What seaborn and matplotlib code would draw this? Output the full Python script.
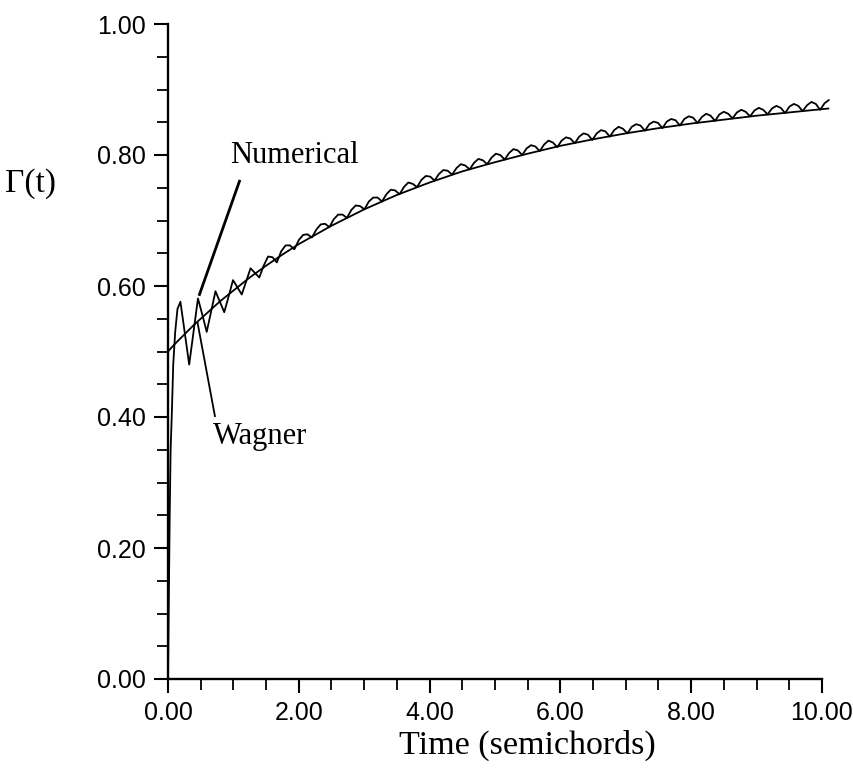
import numpy as np
import pandas as pd
import seaborn as sns
import matplotlib
matplotlib.use("Agg")
import matplotlib.pyplot as plt
from matplotlib.ticker import MultipleLocator, FormatStrFormatter

# ---- data ----
wagner_t = [0.0, 0.1, 0.2, 0.3, 0.4, 0.5, 0.6, 0.7, 0.8, 0.9, 1.0, 1.1, 1.25, 1.5,
            1.75, 2.0, 2.5, 3.0, 3.5, 4.0, 4.5, 5.0, 5.5, 6.0, 6.5, 7.0, 7.5, 8.0,
            8.5, 9.0, 9.5, 10.0, 10.1]
wagner_g = [0.500, 0.511, 0.521, 0.531, 0.541, 0.550, 0.559, 0.568, 0.577, 0.585,
            0.593, 0.601, 0.613, 0.631, 0.648, 0.664, 0.692, 0.717, 0.739, 0.758,
            0.775, 0.789, 0.802, 0.814, 0.824, 0.833, 0.841, 0.848, 0.854, 0.860,
            0.865, 0.870, 0.871]

numerical_t = [0.0, 0.012, 0.026, 0.04, 0.06, 0.08, 0.11, 0.145,
    0.190, 0.257, 0.324, 0.391, 0.458, 0.525, 0.592, 0.659,
    0.726, 0.793, 0.860, 0.927, 0.994, 1.061, 1.128, 1.195,
    1.262, 1.329, 1.396, 1.463, 1.530, 1.597, 1.664, 1.731,
    1.798, 1.865, 1.932, 1.999, 2.066, 2.133, 2.200, 2.267,
    2.334, 2.401, 2.468, 2.535, 2.602, 2.669, 2.736, 2.803,
    2.870, 2.937, 3.004, 3.071, 3.138, 3.205, 3.272, 3.339,
    3.406, 3.473, 3.540, 3.607, 3.674, 3.741, 3.808, 3.875,
    3.942, 4.009, 4.076, 4.143, 4.210, 4.277, 4.344, 4.411,
    4.478, 4.545, 4.612, 4.679, 4.746, 4.813, 4.880, 4.947,
    5.014, 5.081, 5.148, 5.215, 5.282, 5.349, 5.416, 5.483,
    5.550, 5.617, 5.684, 5.751, 5.818, 5.885, 5.952, 6.019,
    6.086, 6.153, 6.220, 6.287, 6.354, 6.421, 6.488, 6.555,
    6.622, 6.689, 6.756, 6.823, 6.890, 6.957, 7.024, 7.091,
    7.158, 7.225, 7.292, 7.359, 7.426, 7.493, 7.560, 7.627,
    7.694, 7.761, 7.828, 7.895, 7.962, 8.029, 8.096, 8.163,
    8.230, 8.297, 8.364, 8.431, 8.498, 8.565, 8.632, 8.699,
    8.766, 8.833, 8.900, 8.967, 9.034, 9.101, 9.168, 9.235,
    9.302, 9.369, 9.436, 9.503, 9.570, 9.637, 9.704, 9.771,
    9.838, 9.905, 9.972, 10.039, 10.106]
numerical_g = [0.0, 0.12, 0.25, 0.35, 0.41, 0.48, 0.53, 0.565,
    0.576, 0.528, 0.480, 0.531, 0.581, 0.556, 0.530, 0.561,
    0.592, 0.576, 0.560, 0.584, 0.609, 0.598, 0.587, 0.607,
    0.627, 0.620, 0.613, 0.631, 0.645, 0.644, 0.636, 0.653,
    0.662, 0.662, 0.656, 0.670, 0.678, 0.679, 0.674, 0.686,
    0.694, 0.695, 0.690, 0.702, 0.709, 0.709, 0.704, 0.716,
    0.723, 0.722, 0.717, 0.729, 0.735, 0.735, 0.729, 0.740,
    0.747, 0.746, 0.740, 0.751, 0.758, 0.756, 0.751, 0.762,
    0.768, 0.767, 0.761, 0.771, 0.777, 0.776, 0.770, 0.780,
    0.786, 0.784, 0.778, 0.788, 0.794, 0.792, 0.786, 0.796,
    0.802, 0.800, 0.793, 0.803, 0.809, 0.807, 0.800, 0.810,
    0.815, 0.813, 0.806, 0.816, 0.822, 0.819, 0.812, 0.822,
    0.827, 0.825, 0.818, 0.828, 0.833, 0.831, 0.823, 0.833,
    0.838, 0.836, 0.828, 0.838, 0.843, 0.840, 0.833, 0.843,
    0.847, 0.845, 0.837, 0.847, 0.851, 0.849, 0.841, 0.851,
    0.855, 0.853, 0.845, 0.855, 0.859, 0.857, 0.849, 0.858,
    0.863, 0.860, 0.852, 0.862, 0.866, 0.863, 0.856, 0.865,
    0.869, 0.866, 0.859, 0.868, 0.872, 0.869, 0.862, 0.871,
    0.875, 0.872, 0.864, 0.874, 0.878, 0.875, 0.867, 0.876,
    0.881, 0.878, 0.869, 0.879, 0.884]

x_ticks = [0.0, 2.0, 4.0, 6.0, 8.0, 10.0]
y_ticks = [0.0, 0.2, 0.4, 0.6, 0.8, 1.0]

numerical_label = "Numerical"
wagner_label = "Wagner"
num_leader = ([1.10, 0.474], [0.762, 0.585])
wag_leader = ([0.45, 0.72], [0.545, 0.40])

# ---- plotting ----
sns.set_theme(style="ticks")
plt.rcParams["font.family"] = ["Liberation Sans", "DejaVu Sans"]
plt.rcParams["text.color"] = "black"
plt.rcParams["axes.labelcolor"] = "black"

fig = plt.figure(figsize=(8.54, 7.78), dpi=100)
ax = fig.add_axes([168 / 854, 1 - 679 / 778, 654 / 854, 655 / 778])

df_w = pd.DataFrame({"t": wagner_t, "g": wagner_g})
df_n = pd.DataFrame({"t": numerical_t, "g": numerical_g})
sns.lineplot(data=df_w, x="t", y="g", ax=ax, color="black", lw=1.3,
             estimator=None, sort=False)
sns.lineplot(data=df_n, x="t", y="g", ax=ax, color="black", lw=1.3,
             estimator=None, sort=False)
for ln in ax.lines:
    ln.set_clip_on(False)

ax.plot(*num_leader, color="black", lw=2.0, solid_capstyle="butt")
ax.plot(*wag_leader, color="black", lw=1.3, solid_capstyle="butt")

serif = ["Liberation Serif", "DejaVu Serif"]
ax.text(0.95, 0.822, numerical_label, fontsize=22, family=serif, color="black",
        ha="left", va="top")
ax.text(0.69, 0.392, wagner_label, fontsize=22, family=serif, color="black",
        ha="left", va="top")

ax.set_xlim(0, 10)
ax.set_ylim(0, 1)
ax.set_xticks(x_ticks)
ax.set_yticks(y_ticks)
ax.xaxis.set_minor_locator(MultipleLocator(0.5))
ax.yaxis.set_minor_locator(MultipleLocator(0.05))
ax.xaxis.set_major_formatter(FormatStrFormatter("%.2f"))
ax.yaxis.set_major_formatter(FormatStrFormatter("%.2f"))
ax.tick_params(which="major", direction="out", length=10, width=1.5,
               labelsize=18, pad=6, color="black", labelcolor="black")
ax.tick_params(which="minor", direction="out", length=8, width=1.3, color="black")

for s in ["top", "right"]:
    ax.spines[s].set_visible(False)
for s in ["left", "bottom"]:
    ax.spines[s].set_linewidth(1.7)
    ax.spines[s].set_color("black")

ax.set_xlabel("Time (semichords)", fontsize=24.5, family=serif, color="black")
ax.xaxis.set_label_coords(0.549, -0.101)
ax.xaxis.label.set_va("center")
ax.set_ylabel("Γ(t)", fontsize=24, family=serif, rotation=0, color="black")
ax.yaxis.set_label_coords(-0.210, 0.757)
ax.yaxis.label.set_va("center")
ax.yaxis.label.set_ha("center")
ax.set_facecolor("white")
fig.patch.set_facecolor("white")

fig.savefig("out.png", dpi=100)
